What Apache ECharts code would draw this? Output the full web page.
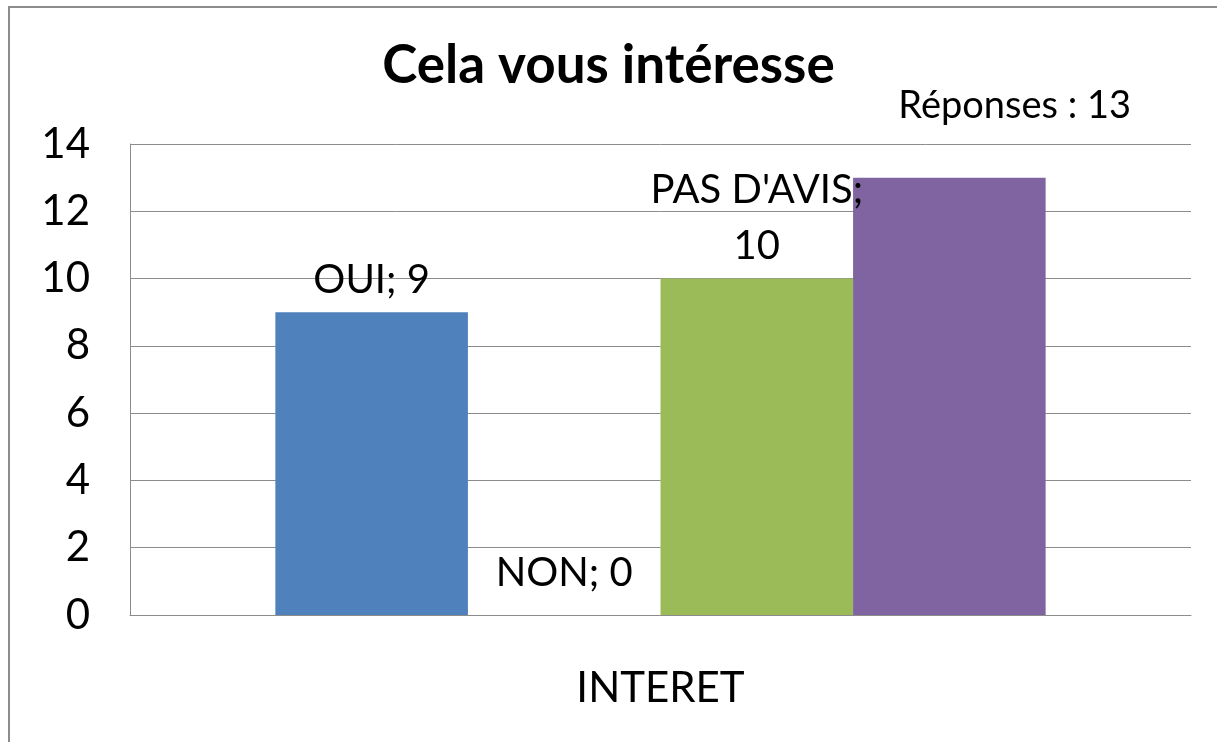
<!DOCTYPE html>
<html>
<head>
<meta charset="utf-8">
<script src="https://cdn.jsdelivr.net/npm/echarts@6/dist/echarts.min.js"></script>
<style>
  html, body { margin: 0; padding: 0; background: #fff; }
  #chart { width: 1217px; height: 742px; }
</style>
</head>
<body>
<div id="chart"></div>
<script>
// Data
const categories = ['INTERET'];
const seriesNames = ['OUI', 'NON', "PAS D'AVIS", 'Réponses'];
const seriesValues = [[9], [0], [10], [13]];
const seriesColors = ['#4f81bd', '#c0504d', '#9bbb59', '#8064a2'];
const showLabel = [true, true, true, false];
const totalText = 'Réponses : 13';

var myChart = echarts.init(document.getElementById('chart'));
var font = 'Lato';

var series = seriesNames.map(function (name, i) {
  return {
    name: name,
    type: 'bar',
    barGap: '0%',
    barCategoryGap: '27.4%',
    itemStyle: { color: seriesColors[i] },
    label: {
      show: showLabel[i],
      position: 'top',
      distance: name === 'NON' ? 14 : 4,
      fontFamily: font,
      fontSize: 40,
      color: '#000',
      lineHeight: 56,
      formatter: name === "PAS D'AVIS"
        ? function (p) { return p.seriesName + ';\n' + p.value; }
        : function (p) { return p.seriesName + '; ' + p.value; },
    },
    data: seriesValues[i],
  };
});

var option = {
  animation: false,
  backgroundColor: '#fff',
  title: {
    text: 'Cela vous intéresse',
    left: 'center',
    top: 34,
    textStyle: { fontFamily: font, fontWeight: 'bold', fontSize: 53, color: '#000' },
  },
  graphic: [
    {
      type: 'rect',
      shape: { x: 9, y: 7, width: 1230, height: 760 },
      style: { fill: null, stroke: '#8c8c8c', lineWidth: 2 },
    },
    {
      type: 'text',
      right: 86,
      top: 87,
      style: { text: totalText, fontFamily: font, fontSize: 38, fill: '#000' },
    },
  ],
  grid: { left: 130, right: 26, top: 144, bottom: 127 },
  xAxis: {
    type: 'category',
    data: categories,
    axisLine: { show: true, lineStyle: { color: '#8c8c8c', width: 1 } },
    axisTick: { show: false },
    axisLabel: { fontFamily: font, fontSize: 42, color: '#000', margin: 52 },
  },
  yAxis: {
    type: 'value',
    min: 0,
    max: 14,
    interval: 2,
    axisLine: { show: true, lineStyle: { color: '#8c8c8c', width: 1 } },
    axisTick: { show: false },
    splitLine: { lineStyle: { color: '#8c8c8c', width: 1 } },
    axisLabel: { fontFamily: font, fontSize: 42, color: '#000', margin: 40 },
  },
  series: series,
};

option && myChart.setOption(option);
</script>
</body>
</html>
